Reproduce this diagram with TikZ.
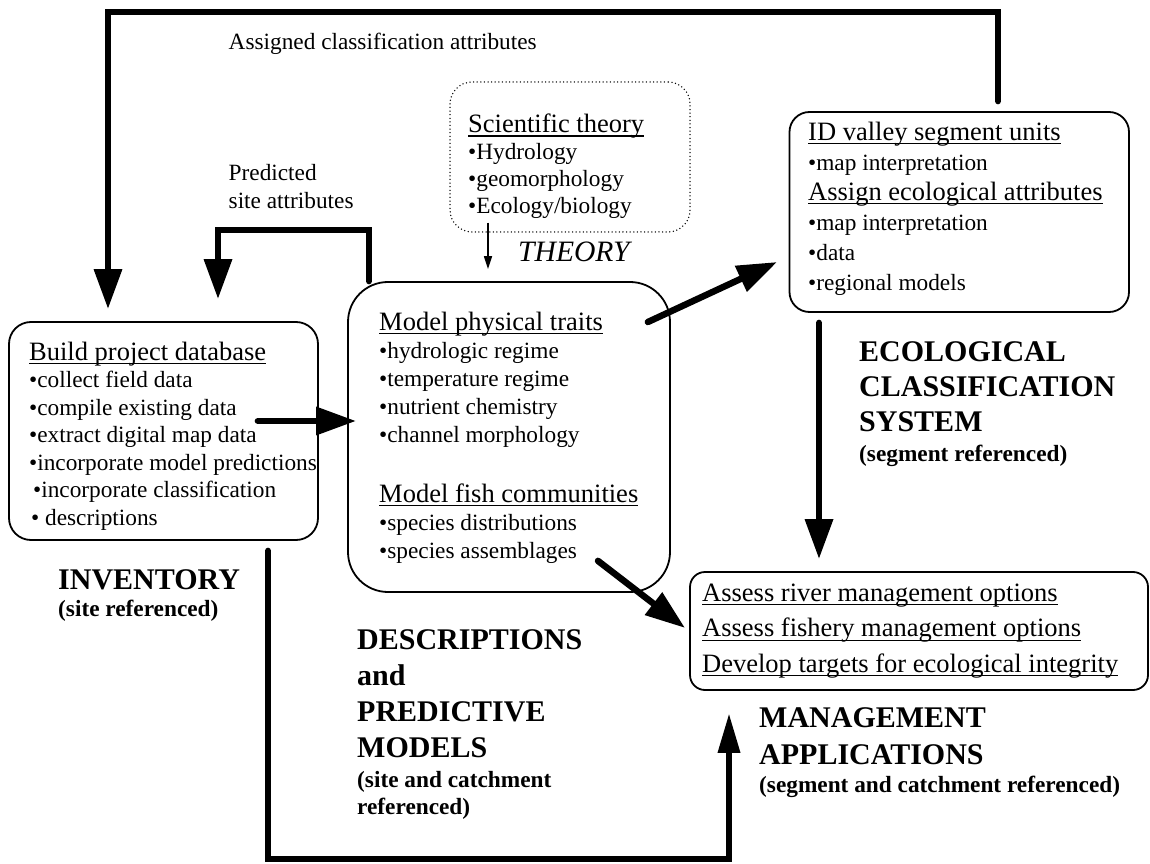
\documentclass[tikz,border=0pt]{standalone}
\usepackage{fontspec}
\setmainfont{Liberation Serif}
\usepackage{tikz}
\usetikzlibrary{arrows.meta,calc}

\newsavebox{\hdbox}
\newcommand{\hdline}[1]{{\fontsize{26.5}{28}\selectfont\sbox{\hdbox}{#1}\rlap{\rule[-4pt]{\wd\hdbox}{1.3pt}}\usebox{\hdbox}}}
\newcommand{\refline}[1]{{\fontsize{23.3}{27}\selectfont #1}}

\begin{document}
\begin{tikzpicture}[x=1pt,y=1pt,
  box/.style={draw, line width=1.8pt, inner sep=0pt},
  fat/.style={line width=6.5pt, line cap=round, -{Triangle[length=40pt,width=27pt]}},
  txt/.style={anchor=north west, inner sep=0pt, align=left, font=\fontsize{23.3}{27.5}\selectfont},
  big/.style={anchor=north west, inner sep=0pt, align=left, font=\bfseries\fontsize{30}{36}\selectfont}]
  \useasboundingbox[fill=white] (0,0) rectangle (1150,863);

  % boxes
  \node[box, rounded corners=22pt, minimum width=309pt, minimum height=218pt] (build) at (163.5,432) {};
  \node[box, rounded corners=40pt, minimum width=322pt, minimum height=310pt] (model) at (509,426) {};
  \node[box, rounded corners=20pt, minimum width=339.5pt, minimum height=200pt] (id) at (959.25,651) {};
  \node[box, rounded corners=15pt, minimum width=458pt, minimum height=118pt] (mgmt) at (919,232) {};
  \node[draw, line width=1.5pt, line cap=round, dash pattern=on 0pt off 3.6pt, rounded corners=22pt,
        inner sep=0pt, minimum width=240pt, minimum height=150pt] (theory) at (570,706) {};

  % box texts
  \node[txt] (buildtxt) at (29,521.3) {\hdline{Build project database}\\ •collect field data\\ •compile existing data\\
    •extract digital map data\\ •incorporate model predictions\\ \hspace{4pt}•incorporate classification\\ \hspace{2pt}• descriptions};
  \node[txt, font=\fontsize{23.3}{28}\selectfont] (modeltxt) at (379,551.3) {\hdline{Model physical traits}\\ •hydrologic regime\\
    •temperature regime\\ •nutrient chemistry\\ •channel morphology\\[32pt] \hdline{Model fish communities}\\
    •species distributions\\ •species assemblages};
  \node[txt, font=\fontsize{23.3}{30}\selectfont] (idtxt) at (808,741.3) {\hdline{ID valley segment units}\\ •map interpretation\\
    \hdline{Assign ecological attributes}\\ •map interpretation\\ •data\\ •regional models};
  \node[txt, font=\fontsize{23.3}{27}\selectfont] (theorytxt) at (468,749.3) {\hdline{Scientific theory}\\ •Hydrology\\ •geomorphology\\ •Ecology/biology};
  \node[txt, font=\fontsize{23.3}{35.5}\selectfont] (mgmttxt) at (702,279.3) {\hdline{Assess river management options}\\
    \hdline{Assess fishery management options}\\ \hdline{Develop targets for ecological integrity}};

  % labels
  \node[anchor=base west, inner sep=0pt, font=\fontsize{23.3}{28}\selectfont] (assigned) at (228.5,813) {Assigned classification attributes};
  \node[txt, font=\fontsize{23.3}{28}\selectfont] (predicted) at (228.5,698.9) {Predicted\\ site attributes};
  \node[anchor=base west, inner sep=0pt, font=\itshape\fontsize{29.6}{30}\selectfont] (theorylbl) at (518,601) {THEORY};
  \node[big] (inventory) at (58,293.3) {INVENTORY\\[-9pt] \refline{(site referenced)}};
  \node[big] (descr) at (357,233.3) {DESCRIPTIONS\\ and\\ PREDICTIVE\\ MODELS\\[-6pt] \refline{(site and catchment}\\[-9pt] \refline{referenced)}};
  \node[big, font=\bfseries\fontsize{30}{35}\selectfont] (ecol) at (859,521.7) {ECOLOGICAL\\ CLASSIFICATION\\ SYSTEM\\[-5pt] \refline{(segment referenced)}};
  \node[big] (mgmtlbl) at (759,155.3) {MANAGEMENT\\[1pt] APPLICATIONS\\[-8pt] \refline{(segment and catchment referenced)}};

  % connectors
  \coordinate (topline) at (0,851);
  \coordinate (midline) at (0,633);
  \coordinate (botline) at (0,4);
  \coordinate (c1) at ($(id.north)+(38.75,10)$);
  \coordinate (c2) at ($(build.north)+(-55.5,12)$);
  \draw[fat] (c1) -- (c1 |- topline) -- (c2 |- topline) -- (c2);
  \coordinate (p1) at ($(model.north)+(-140,0)$);
  \coordinate (p2) at ($(build.north)+(54.5,22)$);
  \draw[fat] (p1) -- (p1 |- midline) -- (p2 |- midline) -- (p2);
  \draw[line width=1.5pt, -{Triangle[length=13pt,width=8pt]}] ($(theory.south)+(-82,10)$) -- ($(model.north)+(-21,12)$);
  \draw[fat] ($(build.east)+(-61,10)$) -- ($(model.west)+(9,16)$);
  \draw[fat] ($(model.east)+(-23,115)$) -- ($(id.west)+(-11.5,-50)$);
  \draw[fat] ($(id.south)+(-140.25,-10)$) -- ($(mgmt.north)+(-100,12)$);
  \draw[fat] ($(model.south)+(89,32)$) -- ($(mgmt.west)+(-4,3)$);
  \coordinate (b1) at ($(build.south)+(104.5,-10)$);
  \coordinate (b2) at ($(mgmt.south)+(-190,-22)$);
  \draw[fat, -{Triangle[length=40pt,width=21pt]}] (b1) -- (b1 |- botline) -- (b2 |- botline) -- (b2);
\end{tikzpicture}
\end{document}
